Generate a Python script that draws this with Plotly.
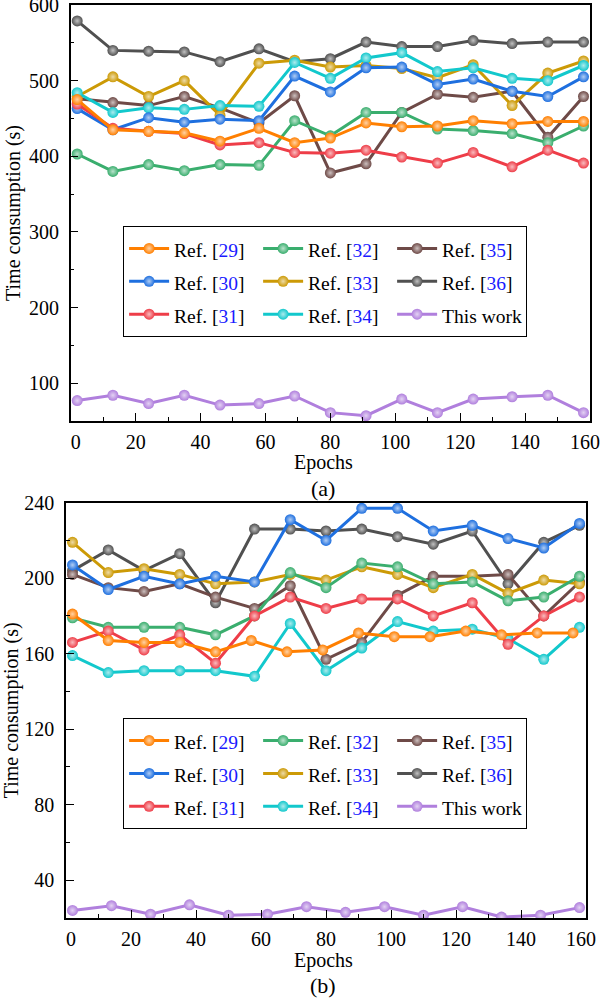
import plotly.graph_objects as go

# ---------------- data ----------------
epochs_a = [2, 13, 24, 35, 46, 58, 69, 80, 91, 102, 113, 124, 136, 147, 158]
ref29_a = [475, 435, 433, 431, 420, 437, 418, 424, 444, 439, 440, 447, 443, 446, 446]
ref30_a = [463, 435, 451, 445, 449, 447, 506, 485, 517, 518, 495, 502, 486, 479, 505]
ref31_a = [469, 437, 433, 430, 415, 418, 405, 404, 408, 399, 391, 405, 386, 408, 391]
ref32_a = [403, 380, 389, 381, 389, 388, 447, 427, 458, 458, 436, 434, 430, 418, 440]
ref33_a = [479, 505, 479, 500, 454, 523, 527, 518, 520, 516, 504, 521, 467, 510, 526]
ref34_a = [484, 458, 464, 462, 467, 466, 524, 503, 530, 537, 512, 517, 503, 500, 520]
ref35_a = [476, 471, 467, 479, 464, 444, 480, 378, 390, 458, 482, 478, 486, 425, 479]
ref36_a = [579, 540, 539, 538, 525, 542, 525, 529, 551, 545, 545, 553, 549, 551, 551]
this_a = [77, 84, 73, 84, 71, 73, 83, 61, 57, 79, 61, 79, 82, 84, 61]

epochs_b = [2, 13, 24, 35, 46, 58, 69, 80, 91, 102, 113, 125, 136, 147, 158]
epochs_b29 = [2, 13, 24, 35, 46, 57, 68, 79, 90, 101, 112, 123, 134, 145, 156]
epochs_b_this = [2, 14, 26, 38, 50, 62, 74, 86, 98, 110, 122, 134, 146, 158]
ref29_b = [181, 167, 166, 166, 161, 167, 161, 162, 171, 169, 169, 172, 170, 171, 171]
ref30_b = [207, 194, 201, 197, 201, 198, 231, 220, 237, 237, 225, 228, 221, 216, 229]
ref31_b = [166, 172, 162, 170, 155, 180, 190, 184, 189, 189, 180, 187, 165, 180, 190]
ref32_b = [179, 174, 174, 174, 170, 180, 203, 195, 208, 206, 197, 198, 188, 190, 201]
ref33_b = [219, 203, 205, 202, 197, 198, 202, 199, 206, 202, 195, 202, 192, 199, 197]
ref34_b = [159, 150, 151, 151, 151, 148, 176, 151, 163, 177, 172, 173, 168, 157, 174]
ref35_b = [202, 195, 193, 197, 190, 184, 196, 157, 166, 191, 201, 201, 202, 180, 198]
ref36_b = [204, 215, 204, 213, 187, 226, 226, 225, 226, 222, 218, 225, 197, 219, 228]
this_b = [24, 26.5, 22, 27, 21.5, 22, 26, 23, 26, 21.5, 26, 20.5, 21.5, 25.5]

x_ticks = [0, 20, 40, 60, 80, 100, 120, 140, 160]
x_ticktext = ["&nbsp;&nbsp;0", "20", "40", "60", "80", "100", "120", "140", "160&nbsp;&nbsp;"]
y_ticks_a = [100, 200, 300, 400, 500, 600]
y_ticks_b = [40, 80, 120, 160, 200, 240]

# ---------------- styling ----------------
FONT = "Liberation Serif"
styles = {
    "29": ("#FF7F00", 1),
    "30": ("#1E6FDF", 4),
    "31": ("#EE3D48", 7),
    "32": ("#3AAE6E", 2),
    "33": ("#CC9A06", 5),
    "34": ("#12C8CC", 8),
    "35": ("#6E4A47", 3),
    "36": ("#505050", 6),
    "this": ("#B07FDD", 9),
}


def tint(hex_color, f=0.65):
    h = hex_color.lstrip("#")
    r, g, b = (int(h[i:i + 2], 16) for i in (0, 2, 4))
    r = int(r + (255 - r) * f)
    g = int(g + (255 - g) * f)
    b = int(b + (255 - b) * f)
    return f"rgb({r},{g},{b})"


def label(key):
    if key == "this":
        txt = "This work"
    else:
        txt = f"Ref. [<span style='color:#1a1aff'>{key}</span>]"
    return f"<span style='font-size:19.5px'>{txt}</span>"


fig = go.Figure()

panel_a = [
    ("36", epochs_a, ref36_a), ("35", epochs_a, ref35_a), ("33", epochs_a, ref33_a),
    ("34", epochs_a, ref34_a), ("30", epochs_a, ref30_a), ("32", epochs_a, ref32_a),
    ("31", epochs_a, ref31_a), ("29", epochs_a, ref29_a), ("this", epochs_a, this_a),
]
panel_b = [
    ("36", epochs_b, ref36_b), ("35", epochs_b, ref35_b), ("33", epochs_b, ref33_b),
    ("34", epochs_b, ref34_b), ("30", epochs_b, ref30_b), ("32", epochs_b, ref32_b),
    ("31", epochs_b, ref31_b), ("29", epochs_b29, ref29_b), ("this", epochs_b_this, this_b),
]

for panel, xa, ya, leg in [(panel_a, "x", "y", "legend"), (panel_b, "x2", "y2", "legend2")]:
    for key, xs, ys in panel:
        col, rank = styles[key]
        fig.add_trace(go.Scatter(
            x=xs, y=ys, mode="lines+markers", name=label(key),
            xaxis=xa, yaxis=ya, legend=leg, legendrank=rank,
            line=dict(color=col, width=3),
            marker=dict(size=11, color=col, line=dict(width=0),
                        gradient=dict(type="radial", color=tint(col))),
        ))

axis_common = dict(
    showline=True, linecolor="black", linewidth=1.5, mirror=True,
    ticks="inside", ticklen=8, tickwidth=1.3, tickcolor="black",
    showgrid=False, zeroline=False, automargin=False,
    tickfont=dict(family=FONT, size=20, color="black"),
    ticklabeloverflow="allow",
)
minor_common = dict(ticks="inside", ticklen=4, tickwidth=1.2, tickcolor="black", showgrid=False)

legend_common = dict(
    orientation="h", xanchor="left", yanchor="top",
    entrywidth=79, entrywidthmode="pixels", traceorder="normal",
    bgcolor="white", bordercolor="black", borderwidth=1,
    font=dict(family=FONT, size=23, color="black"), itemwidth=40,
)

title_font = dict(family=FONT, size=20, color="black")


def caption(text, y_px, size):
    return dict(text=text, xref="paper", yref="paper", x=(323 - 66) / 524, y=(918 - y_px) / 913,
                xanchor="center", yanchor="middle", showarrow=False,
                font=dict(family=FONT, size=size, color="black"))


fig.update_layout(
    width=600, height=998,
    paper_bgcolor="white", plot_bgcolor="white",
    margin=dict(l=66, r=10, t=5, b=80, autoexpand=False),
    font=dict(family=FONT, size=18, color="black"),
    showlegend=True,
    xaxis=dict(domain=[0.009, 1.0], anchor="y", range=[0, 160], tickvals=x_ticks, ticktext=x_ticktext,
               minor=dict(dtick=10, **minor_common), ticklabelstandoff=2,
               **axis_common),
    yaxis=dict(domain=[0.5444, 1.0], anchor="x", range=[50, 600], tickvals=y_ticks_a,
               minor=dict(dtick=50, **minor_common), ticklabelstandoff=6,
               title=dict(text="Time consumption (s)", font=title_font, standoff=3),
               **axis_common),
    xaxis2=dict(domain=[0.0, 0.9924], anchor="y2", range=[0, 160], tickvals=x_ticks, ticktext=x_ticktext,
                minor=dict(dtick=10, **minor_common), ticklabelstandoff=2,
                **axis_common),
    yaxis2=dict(domain=[0.0, 0.4549], anchor="x2", range=[20, 240], tickvals=y_ticks_b,
                minor=dict(dtick=20, **minor_common), ticklabelstandoff=6,
                title=dict(text="Time consumption (s)", font=title_font, standoff=3),
                **axis_common),
    legend=dict(x=0.109, y=0.758, **legend_common),
    legend2=dict(x=0.109, y=0.219, **legend_common),
    annotations=[
        caption("Epochs", 463, 20),
        caption("(a)", 489, 22),
        caption("Epochs", 960, 20),
        caption("(b)", 985, 22),
    ],
)

fig.write_html("out.html", config={"displayModeBar": False},
               post_script="document.body.style.margin='0px';")
